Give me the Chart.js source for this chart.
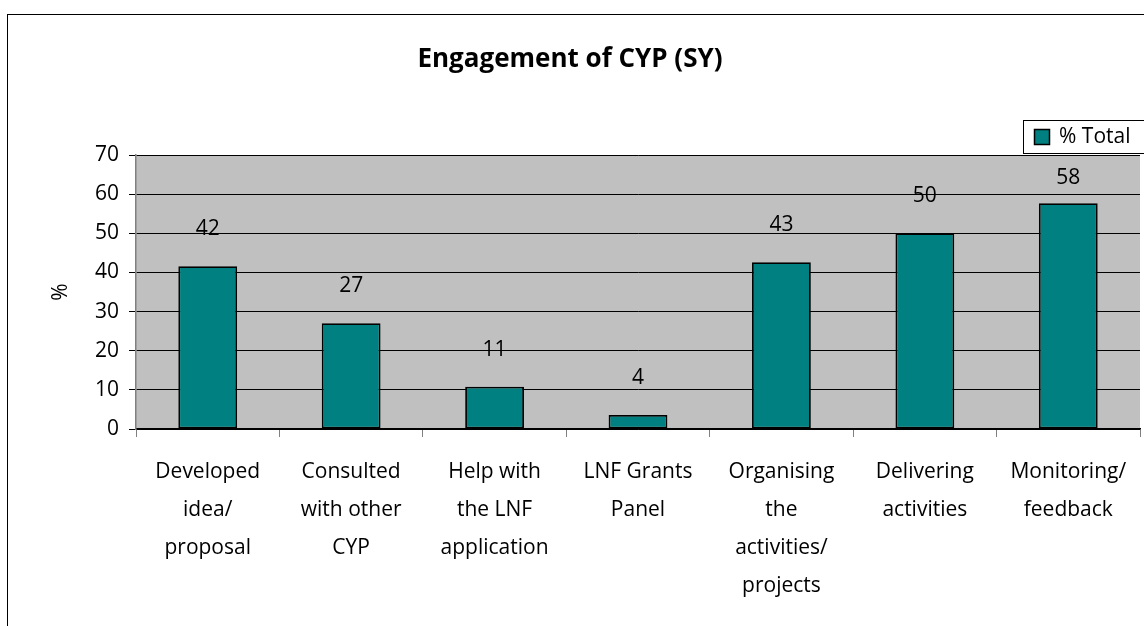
<!DOCTYPE html>
<html lang="en">
<head>
    <meta charset="UTF-8">
    <title>Engagement of CYP (SY)</title>
    <script src="https://cdn.jsdelivr.net/npm/chart.js"></script>
    <style>
        body {
            margin: 0;
            background: #fff;
            font-family: "Open Sans", Lato, sans-serif;
            overflow: hidden;
        }
        .frame {
            position: absolute;
            left: 7px;
            top: 14px;
            width: 1200px;
            height: 700px;
            border: 1.5px solid #000;
        }
        canvas {
            position: absolute;
            left: 0;
            top: 0;
        }
    </style>
</head>
<body>
    <div class="frame"></div>
    <canvas id="myBarChart" width="1144" height="626"></canvas>

    <script>
        const categories = [
            ['Developed', 'idea/', 'proposal'],
            ['Consulted', 'with other', 'CYP'],
            ['Help with', 'the LNF', 'application'],
            ['LNF Grants', 'Panel'],
            ['Organising', 'the', 'activities/', 'projects'],
            ['Delivering', 'activities'],
            ['Monitoring/', 'feedback']
        ];
        const totals = [41.6, 27, 10.8, 3.6, 42.6, 50, 57.7];
        const yTicks = [0, 10, 20, 30, 40, 50, 60, 70];

        const fontFamily = '"Open Sans", Lato, sans-serif';

        // grey plot background
        const plotBackground = {
            id: 'plotBackground',
            beforeDraw(chart) {
                const a = chart.chartArea;
                const c = chart.ctx;
                c.save();
                c.fillStyle = '#c0c0c0';
                c.fillRect(a.left, a.top, a.right - a.left, a.bottom - a.top);
                c.restore();
            }
        };

        // value labels above bars + boxed legend
        const extras = {
            id: 'extras',
            afterDraw(chart) {
                const c = chart.ctx;
                const meta = chart.getDatasetMeta(0);
                const ds = chart.data.datasets[0];
                c.save();
                c.font = '21px ' + fontFamily;
                c.fillStyle = '#000';
                c.textAlign = 'center';
                c.textBaseline = 'middle';
                meta.data.forEach((bar, i) => {
                    const y = Math.max(bar.y - 37, 178);
                    c.fillText(String(Math.round(ds.data[i])), bar.x, y);
                });

                // legend
                c.fillStyle = '#fff';
                c.fillRect(1023, 120, 130, 33);
                c.strokeStyle = '#000';
                c.lineWidth = 1;
                c.strokeRect(1023.5, 120.5, 130, 33);
                c.fillStyle = ds.backgroundColor;
                c.fillRect(1034, 129, 16, 16);
                c.lineWidth = 1.5;
                c.strokeRect(1034.5, 129.5, 15, 15);
                c.fillStyle = '#000';
                c.textAlign = 'left';
                c.fillText(ds.label, 1059, 137);
                c.restore();
            }
        };

        const ctx = document.getElementById('myBarChart').getContext('2d');
        new Chart(ctx, {
            type: 'bar',
            data: {
                labels: categories,
                datasets: [{
                    label: '% Total',
                    data: totals,
                    backgroundColor: '#008080',
                    borderColor: '#000',
                    borderWidth: 1.8,
                    borderSkipped: false,
                    barPercentage: 1,
                    categoryPercentage: 0.41
                }]
            },
            options: {
                responsive: false,
                animation: false,
                layout: {
                    padding: { left: 0, right: 4, top: 0, bottom: 0 }
                },
                plugins: {
                    legend: { display: false },
                    tooltip: { enabled: false },
                    title: {
                        display: true,
                        text: 'Engagement of CYP (SY)',
                        color: '#000',
                        font: { family: fontFamily, size: 26, weight: 'bold', lineHeight: 1.2 },
                        padding: { top: 44, bottom: 79.8 }
                    }
                },
                scales: {
                    x: {
                        grid: {
                            offset: true,
                            drawOnChartArea: false,
                            tickLength: 8,
                            color: '#808080'
                        },
                        border: { color: '#000', width: 1.5 },
                        ticks: {
                            color: '#000',
                            maxRotation: 0,
                            autoSkip: false,
                            padding: 16,
                            font: { family: fontFamily, size: 21, lineHeight: 1.81 }
                        },
                        afterFit(scale) { scale.height = 626 - 429; }
                    },
                    y: {
                        min: 0,
                        max: 70,
                        afterBuildTicks(scale) {
                            scale.ticks = yTicks.map(v => ({ value: v }));
                        },
                        title: {
                            display: true,
                            text: '%',
                            color: '#000',
                            font: { family: fontFamily, size: 21, lineHeight: 1.2 },
                            padding: { top: 48, bottom: 0 }
                        },
                        grid: {
                            color: '#000',
                            tickLength: 7
                        },
                        border: { color: '#808080', width: 1.5 },
                        ticks: {
                            color: '#000',
                            padding: 10,
                            font: { family: fontFamily, size: 21 }
                        },
                        afterFit(scale) { scale.width = 136; }
                    }
                }
            },
            plugins: [plotBackground, extras]
        });
    </script>
</body>
</html>
